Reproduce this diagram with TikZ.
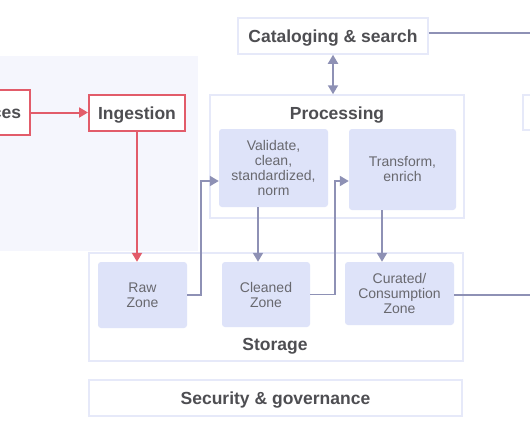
\documentclass[tikz,border=0pt]{standalone}
\usepackage{fontspec}
\setmainfont{Liberation Sans}
\usetikzlibrary{arrows.meta}
\definecolor{redln}{RGB}{226,92,106}
\definecolor{linkc}{RGB}{142,145,181}
\definecolor{framec}{RGB}{230,233,249}
\definecolor{zonec}{RGB}{222,227,249}
\definecolor{panelc}{RGB}{245,246,253}
\definecolor{titletext}{RGB}{78,78,82}
\definecolor{zonetext}{RGB}{104,104,110}
\begin{document}
\begin{tikzpicture}[x=1pt, y=-1pt, every node/.style={inner sep=0pt, align=center},
  frame/.style={draw=framec, line width=1.5pt, fill=white},
  redframe/.style={draw=redln, line width=2pt, fill=white},
  zone/.style={fill=zonec, rounded corners=3pt, text=zonetext, font=\fontsize{14}{15}\selectfont},
  title/.style={text=titletext, text depth=0pt, font=\bfseries\fontsize{17.5}{20}\selectfont},
  tip/.style={-{Triangle[length=9pt, width=10pt]}}]
\useasboundingbox (0,0) rectangle (530,442);
\fill[panelc] (-10,56) rectangle (198,251);
\node[redframe, title, minimum width=87pt, minimum height=45pt] (src) at (-13.5,112.5) {Sources};
\node[redframe, title, minimum width=96pt, minimum height=36pt] (ing) at (137,113) {Ingestion};
\node[frame, title, minimum width=190pt, minimum height=36pt] (cat) at (333,36) {Cataloging \& search};
\node[frame, minimum width=254pt, minimum height=123pt] (proc) at (337,156.5) {};
\node[title] (proct) at (337,113.5) {Processing};
\node[frame, minimum width=40pt, minimum height=35pt] (out) at (543,112.5) {};
\node[zone, minimum width=109pt, minimum height=78pt] (val) at (273.5,168) {Validate,\\clean,\\standardized,\\norm};
\node[zone, minimum width=107pt, minimum height=81pt] (trf) at (402.5,169.5) {Transform,\\enrich};
\node[frame, minimum width=374pt, minimum height=108pt] (stor) at (276,307) {};
\node[title] (stort) at (275,344) {Storage};
\node[zone, minimum width=89pt, minimum height=66pt] (raw) at (142.5,295) {Raw\\Zone};
\node[zone, minimum width=88pt, minimum height=65pt] (cln) at (266,294.5) {Cleaned\\Zone};
\node[zone, minimum width=109pt, minimum height=63pt] (cur) at (399.5,293.5) {Curated/\\Consumption\\Zone};
\node[frame, title, minimum width=373pt, minimum height=36pt] (sec) at (275.5,398) {Security \& governance};
\coordinate (j1) at (201,181);
\coordinate (j2) at (335,181);
\coordinate (catout) at (540,33);
\coordinate (curout) at (540,295);
\draw[redln, line width=2pt, tip] (src.east) -- (src.east -| ing.west);
\draw[redln, line width=2pt, tip] (ing.south) -- (ing.south |- raw.north);
\draw[linkc, line width=1.8pt, tip] (raw.east) -| (j1) -- (j1 -| val.west);
\draw[linkc, line width=1.8pt, tip] (cln.east) -| (j2) -- (j2 -| trf.west);
\foreach \a/\b/\s in {val/cln/15.5, trf/cur/20.5}
  \draw[linkc, line width=1.8pt, tip] ([xshift=-\s pt]\a.south) -- ([xshift=-\s pt]\a.south |- \b.north);
\draw[linkc, line width=1.8pt, {Triangle[length=9pt, width=10pt]}-{Triangle[length=9pt, width=10pt]}] (cat.south) -- (cat.south |- proc.north);
\draw[linkc, line width=1.8pt] (cat.east |- catout) -- (catout);
\draw[linkc, line width=1.8pt] (cur.east |- curout) -- (curout);
\end{tikzpicture}
\end{document}
